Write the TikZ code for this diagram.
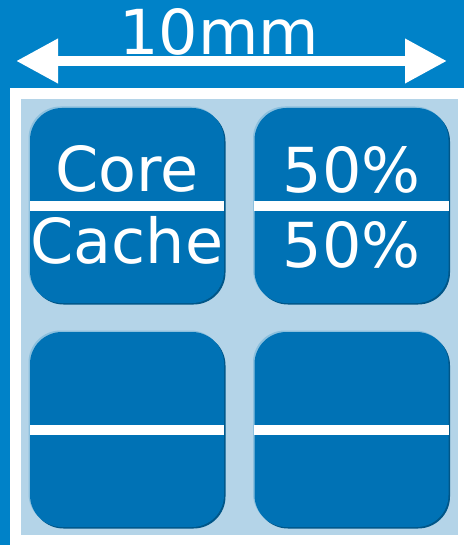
\documentclass[tikz,border=0pt]{standalone}
\usepackage{fontspec}
\setmainfont{DejaVu Sans}
\usetikzlibrary{arrows.meta}
\usetikzlibrary{positioning}
\definecolor{bgblue}{HTML}{0082C8}
\definecolor{paleblue}{HTML}{B4D4E8}
\definecolor{tileblue}{HTML}{0072B5}
\tikzset{
  tile/.style={fill=tileblue, rounded corners=32pt, minimum width=194pt,
    minimum height=195pt, inner sep=0pt,
    preaction={fill=tileblue!75!black, transform canvas={shift={(1.5pt,-1.5pt)}}},
    preaction={fill=tileblue!45!white, transform canvas={shift={(-1.5pt,1.5pt)}}}},
  divider/.style={white, line width=10pt},
  big/.style={text=white, font=\fontsize{62}{62}\selectfont, inner sep=0pt, anchor=base},
  dim/.style={white, line width=10pt,
    {Triangle[length=42pt,width=42pt]}-{Triangle[length=42pt,width=42pt]}}
}
\begin{document}
\begin{tikzpicture}[x=1pt,y=-1pt]
\useasboundingbox (0,0) rectangle (464,545);
% background and frame
\fill[bgblue] (0,0) rectangle (464,545);
\fill[white] (10,88) rectangle (464,545);
\fill[paleblue] (21,99) rectangle (458,535);
% width arrow
\node[big] (size) at (219,55) {10mm};
\coordinate (leftend) at (16,61);
\coordinate (rightend) at (447,61);
\draw[dim] (leftend) -- (rightend);
% tiles
\node[tile] (tl) at (127,205.5) {};
\node[tile] (tr) at (351.5,205.5) {};
\node[tile] (bl) at (127,429.5) {};
\node[tile] (br) at (351.5,429.5) {};
% dividers
\draw[divider] (tl.west) -- (tl.east);
\draw[divider] (tr.west) -- (tr.east);
\draw[divider] (bl.west) -- (bl.east);
\draw[divider] (br.west) -- (br.east);
% labels
\node[big] (core) at ([yshift=13.5pt]tl.center) {Core};
\node[big] (cache) at ([yshift=-57.5pt]tl.center) {Cache};
\node[big] (upper) at ([yshift=12.5pt]tr.center) {50\%};
\node[big] (lower) at ([yshift=-61.5pt]tr.center) {50\%};
\end{tikzpicture}
\end{document}
